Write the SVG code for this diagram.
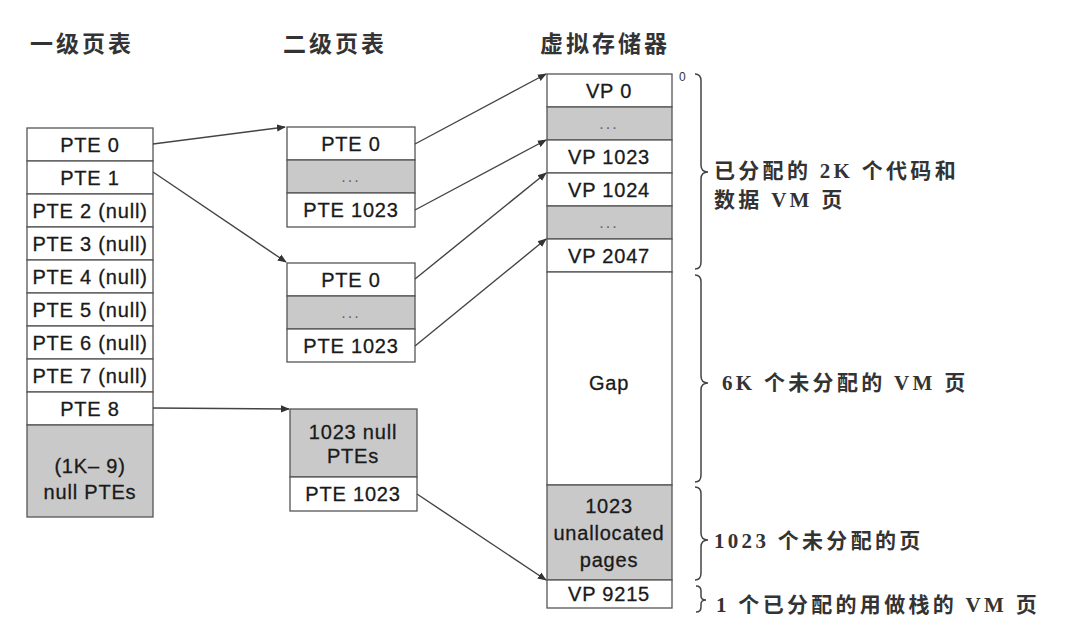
<svg xmlns="http://www.w3.org/2000/svg" width="1078" height="636" viewBox="0 0 1078 636">
<defs>
<marker id="ah" viewBox="0 0 10 10" refX="9" refY="5" markerWidth="9" markerHeight="9" markerUnits="userSpaceOnUse" orient="auto">
<path d="M0,1 L10,5 L0,9 Z" fill="#333"/>
</marker>
<style>
.w{fill:#fff;stroke:#555;stroke-width:1.3}
.g{fill:#c9c9c9;stroke:#555;stroke-width:1.3}
.t{font-family:"Liberation Sans",Arial,sans-serif;font-size:20px;letter-spacing:0.8px;fill:#1a1a1a;stroke:#1a1a1a;stroke-width:0.3;text-anchor:middle;dominant-baseline:central}
.d{font-family:"Liberation Sans",Arial,sans-serif;font-size:16px;letter-spacing:2px;fill:#666;text-anchor:middle;dominant-baseline:central}
.h{font-family:"Noto Sans CJK SC","Noto Sans CJK TC",sans-serif;font-size:23px;font-weight:600;letter-spacing:3px;fill:#333}
.c{font-family:"Liberation Serif","Noto Sans CJK SC",serif;font-size:21px;font-weight:bold;letter-spacing:3.3px;fill:#333}
.cn{stroke:#444;stroke-width:1.4;fill:none;marker-end:url(#ah)}
.br{stroke:#444;stroke-width:1.5;fill:none}
</style>
</defs>
<rect width="1078" height="636" fill="#fff"/>

<g id="titles">
<text class="h" x="30" y="52">一级页表</text>
<text class="h" x="283" y="52">二级页表</text>
<text class="h" x="540" y="52">虚拟存储器</text>
</g>

<g id="level1">
<rect class="w" x="27" y="128" width="126" height="33"/><text class="t" x="90" y="145">PTE 0</text>
<rect class="w" x="27" y="161" width="126" height="33"/><text class="t" x="90" y="178">PTE 1</text>
<rect class="w" x="27" y="194" width="126" height="33"/><text class="t" x="90" y="211">PTE 2 (null)</text>
<rect class="w" x="27" y="227" width="126" height="33"/><text class="t" x="90" y="244">PTE 3 (null)</text>
<rect class="w" x="27" y="260" width="126" height="33"/><text class="t" x="90" y="277">PTE 4 (null)</text>
<rect class="w" x="27" y="293" width="126" height="33"/><text class="t" x="90" y="310">PTE 5 (null)</text>
<rect class="w" x="27" y="326" width="126" height="33"/><text class="t" x="90" y="343">PTE 6 (null)</text>
<rect class="w" x="27" y="359" width="126" height="33"/><text class="t" x="90" y="376">PTE 7 (null)</text>
<rect class="w" x="27" y="392" width="126" height="33"/><text class="t" x="90" y="409">PTE 8</text>
<rect class="g" x="27" y="425" width="126" height="92"/>
<text class="t" x="90" y="466">(1K– 9)</text>
<text class="t" x="90" y="492">null PTEs</text>
</g>

<g id="level2a">
<rect class="w" x="287" y="127" width="128" height="33"/><text class="t" x="351" y="144">PTE 0</text>
<rect class="g" x="287" y="160" width="128" height="33"/><text class="d" x="351" y="176">...</text>
<rect class="w" x="287" y="193" width="128" height="34"/><text class="t" x="351" y="210">PTE 1023</text>
</g>

<g id="level2b">
<rect class="w" x="287" y="263" width="128" height="33"/><text class="t" x="351" y="280">PTE 0</text>
<rect class="g" x="287" y="296" width="128" height="33"/><text class="d" x="351" y="312">...</text>
<rect class="w" x="287" y="329" width="128" height="33"/><text class="t" x="351" y="346">PTE 1023</text>
</g>

<g id="level2c">
<rect class="g" x="290" y="409" width="127" height="68"/>
<text class="t" x="353" y="432">1023 null</text>
<text class="t" x="353" y="456">PTEs</text>
<rect class="w" x="290" y="477" width="127" height="34"/><text class="t" x="353" y="494">PTE 1023</text>
</g>

<g id="vm">
<rect class="w" x="547" y="74" width="125" height="33"/><text class="t" x="609" y="91">VP 0</text>
<rect class="g" x="547" y="107" width="125" height="33"/><text class="d" x="609" y="123">...</text>
<rect class="w" x="547" y="140" width="125" height="33"/><text class="t" x="609" y="157">VP 1023</text>
<rect class="w" x="547" y="173" width="125" height="33"/><text class="t" x="609" y="190">VP 1024</text>
<rect class="g" x="547" y="206" width="125" height="33"/><text class="d" x="609" y="222">...</text>
<rect class="w" x="547" y="239" width="125" height="33"/><text class="t" x="609" y="256">VP 2047</text>
<rect class="w" x="547" y="272" width="125" height="213"/><text class="t" x="609" y="383">Gap</text>
<rect class="g" x="547" y="485" width="125" height="95"/>
<text class="t" x="609" y="506">1023</text>
<text class="t" x="609" y="533">unallocated</text>
<text class="t" x="609" y="560">pages</text>
<rect class="w" x="547" y="580" width="125" height="28"/><text class="t" x="609" y="594">VP 9215</text>
<text x="679" y="81" font-family="Liberation Sans,Arial,sans-serif" font-size="12" fill="#333">0</text>
</g>

<g id="connectors">
<path class="cn" d="M153,144 L285,127"/>
<path class="cn" d="M153,172 L286,262"/>
<path class="cn" d="M153,408 L289,409"/>
<path class="cn" d="M415,144 L546,74"/>
<path class="cn" d="M415,210 L546,140"/>
<path class="cn" d="M415,279 L546,173"/>
<path class="cn" d="M415,346 L546,239"/>
<path class="cn" d="M417,494 L546,580"/>
</g>

<g id="braces">
<path class="br" d="M695,74 Q701,74 701,81 L701,165 Q701,172 708,172 Q701,172 701,179 L701,262 Q701,269 695,269"/>
<path class="br" d="M695,275 Q701,275 701,282 L701,376 Q701,383 708,383 Q701,383 701,390 L701,475 Q701,482 695,482"/>
<path class="br" d="M695,487 Q701,487 701,494 L701,533 Q701,540 708,540 Q701,540 701,547 L701,573 Q701,580 695,580"/>
<path class="br" d="M696,586 Q701,586 701,591 L701,596 Q701,600 706,600 Q701,600 701,604 L701,607 Q701,612 696,612"/>
</g>

<g id="labels">
<text class="c" x="714" y="178">已分配的 2K 个代码和</text>
<text class="c" x="714" y="207">数据 VM 页</text>
<text class="c" x="722" y="390">6K 个未分配的 VM 页</text>
<text class="c" x="714" y="548">1023 个未分配的页</text>
<text class="c" x="716" y="612">1 个已分配的用做栈的 VM 页</text>
</g>
</svg>
